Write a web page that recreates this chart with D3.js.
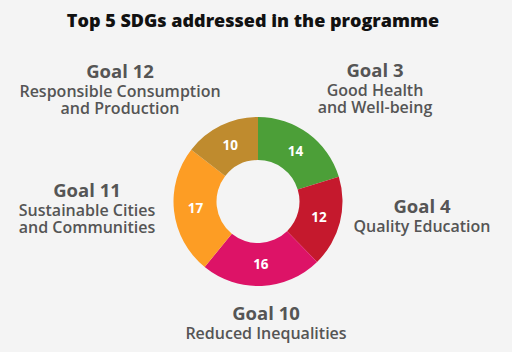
<!DOCTYPE html>
<html>
<head>
<meta charset="utf-8">
<script src="https://cdn.jsdelivr.net/npm/d3@7"></script>
<style>
  html, body { margin: 0; padding: 0; background: #fff; }
  text { font-family: "Open Sans", sans-serif; }
</style>
</head>
<body>
<div id="chart"></div>
<script>
// data
const goals = ['Goal 3', 'Goal 4', 'Goal 10', 'Goal 11', 'Goal 12'];
const goalNames = [
  ['Good Health', 'and Well-being'],
  ['Quality Education'],
  ['Reduced Inequalities'],
  ['Sustainable Cities', 'and Communities'],
  ['Responsible Consumption', 'and Production'],
];
const counts = [14, 12, 16, 17, 10];
const colors = ['#4c9f38', '#c5192d', '#dd1367', '#fd9d24', '#bf8b2e'];

// label anchor points (centre x, baseline of the "Goal" line)
const labelPos = [
  [375, 77],
  [422, 213],
  [266, 320],
  [87, 197],
  [120, 78],
];

const width = 528;
const height = 352;
const cx = 258;
const cy = 201.5;
const outerR = 84.5;
const innerR = 41.5;

const svg = d3.select('#chart')
  .append('svg')
  .attr('width', width)
  .attr('height', height);

svg.append('rect')
  .attr('width', 512)
  .attr('height', height)
  .attr('fill', '#f4f4f4');

svg.append('text')
  .attr('x', 253)
  .attr('y', 27)
  .attr('text-anchor', 'middle')
  .attr('font-size', 18)
  .attr('font-weight', 800)
  .attr('fill', '#111')
  .text('Top 5 SDGs addressed in the programme');

const data = goals.map((g, i) => ({ goal: g, value: counts[i], color: colors[i] }));

const pie = d3.pie()
  .value((d) => d.value)
  .sort(null);

const arc = d3.arc()
  .innerRadius(innerR)
  .outerRadius(outerR);

const g = svg.append('g')
  .attr('transform', `translate(${cx},${cy})`);

const arcs = g.selectAll('.arc')
  .data(pie(data))
  .enter().append('g')
  .attr('class', 'arc');

arcs.append('path')
  .attr('d', arc)
  .attr('fill', (d) => d.data.color);

arcs.append('text')
  .attr('transform', (d) => `translate(${arc.centroid(d)})`)
  .attr('dy', '0.35em')
  .attr('text-anchor', 'middle')
  .attr('font-size', 13.5)
  .attr('font-weight', 700)
  .attr('fill', '#fff')
  .text((d) => d.data.value);

// outside labels
goals.forEach((goal, i) => {
  const [x, y] = labelPos[i];
  const t = svg.append('text')
    .attr('text-anchor', 'middle')
    .attr('fill', '#555');
  t.append('tspan')
    .attr('x', x)
    .attr('y', y)
    .attr('font-size', 18.5)
    .attr('font-weight', 700)
    .text(goal);
  goalNames[i].forEach((line, j) => {
    t.append('tspan')
      .attr('x', x)
      .attr('y', y + 19 + j * 17)
      .attr('font-size', 16)
      .attr('font-weight', 600)
      .text(line);
  });
});
</script>
</body>
</html>
